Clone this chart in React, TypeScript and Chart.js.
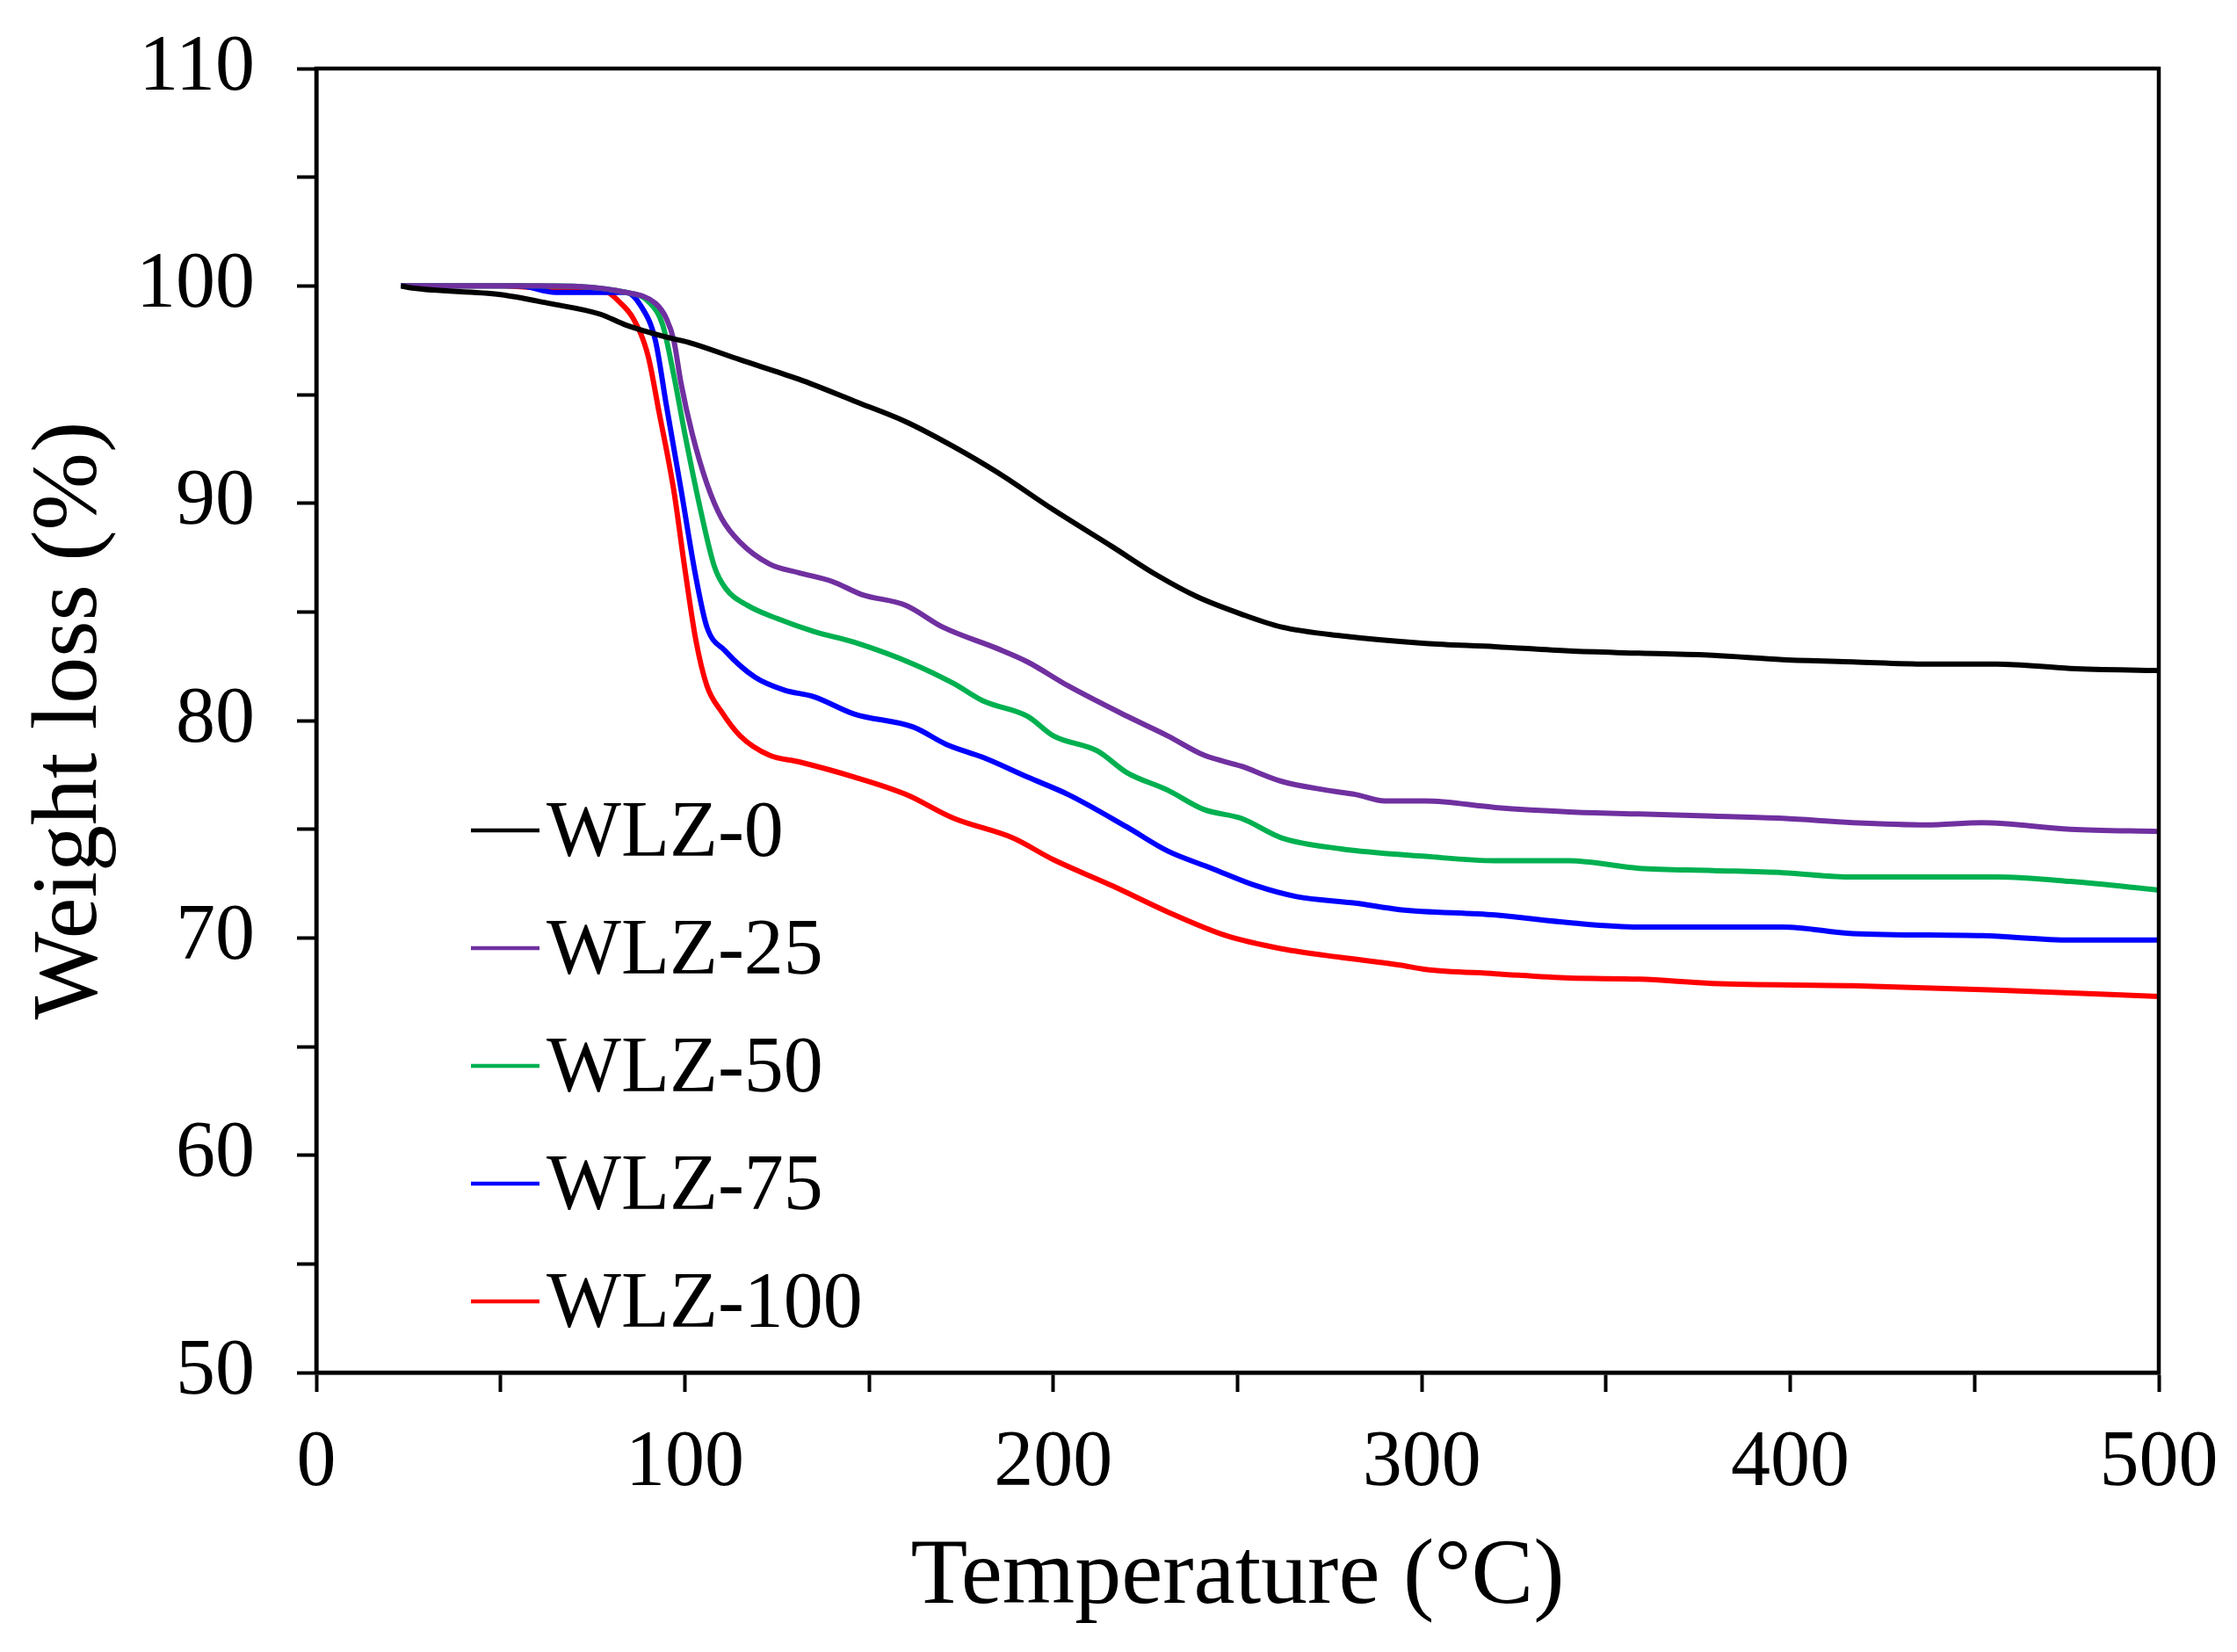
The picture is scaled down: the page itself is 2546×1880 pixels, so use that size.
import React, { useEffect, useRef } from 'react';
import { Chart, registerables } from 'chart.js';
import type { ChartConfiguration, Plugin } from 'chart.js';

Chart.register(...registerables);

// TGA curves: temperature (°C) and weight (%)
const wlz0Temp = [23, 26, 50, 63, 77, 84, 96, 101, 115, 131, 146, 160, 173, 185, 200, 216, 228, 239, 251, 262, 278, 301, 320, 340, 359, 379, 398, 417, 437, 456, 476, 500];
const wlz0Weight = [100, 99.9, 99.6, 99.2, 98.7, 98.2, 97.6, 97.4, 96.6, 95.7, 94.7, 93.75, 92.6, 91.4, 89.7, 88.0, 86.7, 85.7, 84.9, 84.3, 83.9, 83.55, 83.4, 83.2, 83.1, 83.0, 82.8, 82.7, 82.6, 82.6, 82.4, 82.3];

const wlz25Temp = [23, 60, 84, 92, 95, 97, 99, 102, 106, 110, 115, 123, 131, 140, 148, 160, 170, 185, 193, 204, 220, 231, 241, 251, 262, 274, 282, 290, 301, 320, 340, 359, 379, 398, 417, 437, 452, 476, 500];
const wlz25Weight = [100, 100, 99.7, 99.2, 98.5, 97.5, 95.5, 93.2, 90.9, 89.3, 88.2, 87.2, 86.8, 86.4, 85.8, 85.3, 84.3, 83.3, 82.7, 81.6, 80.2, 79.3, 78.4, 77.9, 77.2, 76.8, 76.6, 76.3, 76.3, 76.0, 75.8, 75.7, 75.6, 75.5, 75.3, 75.2, 75.3, 75.0, 74.9];

const wlz50Temp = [23, 60, 84, 90, 94, 97, 100, 104, 108, 111, 117, 125, 135, 146, 162, 173, 181, 193, 200, 212, 220, 231, 241, 251, 262, 278, 301, 320, 340, 359, 379, 398, 417, 437, 456, 476, 500];
const wlz50Weight = [100, 100, 99.7, 99.3, 98.2, 95.9, 93.2, 89.9, 87.1, 86.1, 85.3, 84.7, 84.1, 83.6, 82.6, 81.7, 80.9, 80.2, 79.3, 78.6, 77.6, 76.8, 75.9, 75.5, 74.6, 74.1, 73.75, 73.55, 73.55, 73.2, 73.1, 73.0, 72.8, 72.8, 72.8, 72.6, 72.2];

const wlz75Temp = [23, 55, 65, 72, 84, 88, 92, 95, 99, 103, 106, 111, 119, 127, 135, 146, 162, 171, 181, 193, 204, 220, 231, 243, 255, 266, 282, 294, 320, 340, 359, 379, 398, 417, 452, 476, 500];
const wlz75Weight = [100, 100, 99.7, 99.7, 99.7, 99.1, 97.5, 94.5, 90.6, 86.6, 84.3, 83.2, 82.0, 81.4, 81.1, 80.3, 79.7, 78.9, 78.3, 77.4, 76.6, 75.1, 74.0, 73.2, 72.4, 71.9, 71.6, 71.3, 71.05, 70.7, 70.5, 70.5, 70.5, 70.2, 70.1, 69.9, 69.9];

const wlz100Temp = [23, 50, 69, 79, 82, 86, 90, 93, 97, 100, 103, 106, 110, 115, 123, 131, 146, 160, 173, 189, 200, 216, 231, 247, 262, 278, 294, 301, 320, 340, 359, 379, 417, 456, 500];
const wlz100Weight = [100, 100, 99.8, 99.7, 99.3, 98.5, 96.8, 94.2, 90.6, 87.0, 83.7, 81.6, 80.4, 79.3, 78.4, 78.1, 77.4, 76.6, 75.5, 74.6, 73.6, 72.4, 71.2, 70.1, 69.5, 69.1, 68.75, 68.55, 68.35, 68.15, 68.1, 67.9, 67.8, 67.6, 67.3];

const seriesLabels = ['WLZ-0', 'WLZ-25', 'WLZ-50', 'WLZ-75', 'WLZ-100'];
const seriesColors = ['#000000', '#7030A0', '#00B050', '#0000FF', '#FF0000'];
const seriesTemps = [wlz0Temp, wlz25Temp, wlz50Temp, wlz75Temp, wlz100Temp];
const seriesWeights = [wlz0Weight, wlz25Weight, wlz50Weight, wlz75Weight, wlz100Weight];

const FONT = '"Liberation Serif", "Times New Roman", serif';

// closed box around the plot area
const frameBox: Plugin = {
  id: 'frameBox',
  afterDraw(chart) {
    const { ctx, chartArea } = chart;
    ctx.save();
    ctx.strokeStyle = '#000';
    ctx.lineWidth = 4.5;
    ctx.strokeRect(chartArea.left, chartArea.top, chartArea.right - chartArea.left, chartArea.bottom - chartArea.top);
    ctx.restore();
  }
};

// legend drawn inside the plot, lower left
const insideLegend: Plugin = {
  id: 'insideLegend',
  afterDraw(chart) {
    const { ctx, chartArea } = chart;
    const x0 = chartArea.left + 176;
    const x1 = x0 + 78;
    const firstY = chartArea.top + 867;
    const rowGap = 134;
    ctx.save();
    ctx.font = `90px ${FONT}`;
    ctx.textBaseline = 'middle';
    ctx.fillStyle = '#000';
    chart.data.datasets.forEach((ds, i) => {
      const y = firstY + i * rowGap;
      ctx.strokeStyle = ds.borderColor as string;
      ctx.lineWidth = 4.5;
      ctx.beginPath();
      ctx.moveTo(x0, y);
      ctx.lineTo(x1, y);
      ctx.stroke();
      ctx.fillText(ds.label as string, x1 + 8, y + 5);
    });
    ctx.restore();
  }
};

const TgaChart: React.FC = () => {
  const chartRef = useRef<HTMLCanvasElement>(null);
  const chartInstanceRef = useRef<Chart | null>(null);

  useEffect(() => {
    if (!chartRef.current) return;
    if (chartInstanceRef.current) {
      chartInstanceRef.current.destroy();
    }
    const ctx = chartRef.current.getContext('2d');
    if (!ctx) return;

    const config: ChartConfiguration<'line'> = {
      type: 'line',
      data: {
        datasets: seriesLabels.map((label, i) => ({
          label,
          data: seriesTemps[i].map((t, j) => ({ x: t, y: seriesWeights[i][j] })),
          borderColor: seriesColors[i],
          backgroundColor: seriesColors[i],
          borderWidth: 6,
          pointRadius: 0,
          cubicInterpolationMode: 'monotone' as const,
          fill: false
        }))
      },
      options: {
        responsive: false,
        animation: false,
        layout: { autoPadding: false, padding: { top: 78, right: 89, left: 0, bottom: 0 } },
        plugins: {
          legend: { display: false },
          tooltip: { enabled: false }
        },
        scales: {
          x: {
            type: 'linear',
            min: 0,
            max: 500,
            afterFit: (scale: any) => {
              scale.height = 1880 - 1562;
              scale.paddingLeft = 0;
              scale.paddingRight = 0;
            },
            ticks: {
              stepSize: 50,
              autoSkip: false,
              maxRotation: 0,
              color: '#000',
              padding: 28,
              font: { family: FONT, size: 90 },
              callback: (v) => (Number(v) % 100 === 0 ? String(v) : '')
            },
            grid: {
              drawOnChartArea: false,
              drawTicks: true,
              tickLength: 22,
              tickColor: '#000',
              tickWidth: 4
            },
            border: { display: true, color: '#000', width: 4.5 },
            title: {
              display: true,
              text: 'Temperature (°C)',
              color: '#000',
              font: { family: FONT, size: 106 },
              padding: { top: 0, bottom: 20 }
            }
          },
          y: {
            type: 'linear',
            min: 50,
            max: 110,
            afterFit: (scale: any) => {
              scale.width = 360;
              scale.paddingTop = 0;
              scale.paddingBottom = 0;
            },
            ticks: {
              stepSize: 5,
              autoSkip: false,
              color: '#000',
              padding: 48,
              font: { family: FONT, size: 90 },
              callback: (v) => (Number(v) % 10 === 0 ? String(v) : '')
            },
            grid: {
              drawOnChartArea: false,
              drawTicks: true,
              tickLength: 22,
              tickColor: '#000',
              tickWidth: 4
            },
            border: { display: true, color: '#000', width: 4.5 },
            title: {
              display: true,
              text: 'Weight loss (%)',
              color: '#000',
              font: { family: FONT, size: 106 },
              padding: { top: 18, bottom: 0 }
            }
          }
        }
      },
      plugins: [frameBox, insideLegend]
    };

    chartInstanceRef.current = new Chart(ctx, config);

    return () => {
      if (chartInstanceRef.current) {
        chartInstanceRef.current.destroy();
        chartInstanceRef.current = null;
      }
    };
  }, []);

  return (
    <div style={{ position: 'fixed', left: 0, top: 0, width: 2546, height: 1880, background: '#fff' }}>
      <canvas ref={chartRef} width={2546} height={1880} style={{ width: 2546, height: 1880 }}></canvas>
    </div>
  );
};

export default function App() {
  return <TgaChart />;
}
